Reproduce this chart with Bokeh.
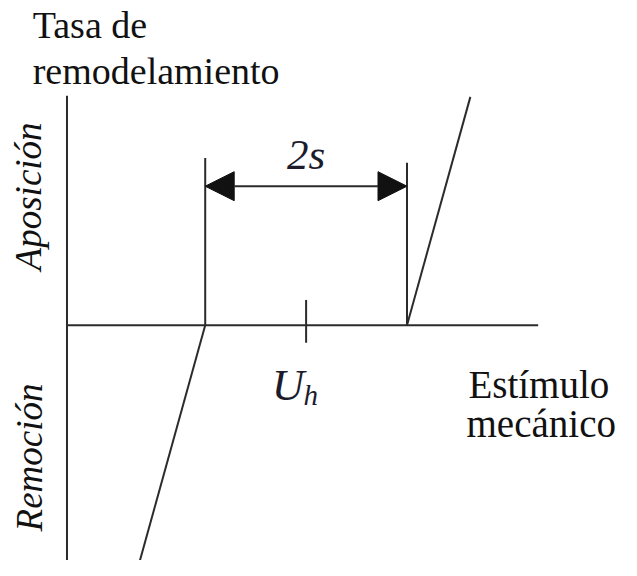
import math
from bokeh.plotting import figure
from bokeh.models import Arrow, NormalHead, Range1d
from bokeh.core.properties import value
from bokeh.embed import file_html
from bokeh.resources import INLINE

# Schematic values (stimulus units: homeostatic U_h, half-width s of the lazy zone)
u_h = 3.0
s = 1.0
slope = 3.74                      # remodelling rate per unit stimulus outside the lazy zone
lazy_low = u_h - s
lazy_high = u_h + s
axis_x = [0.63, 5.30]             # stimulus axis extent
axis_y = [-2.6, 2.36]             # rate axis extent
upper_end_x = 4.628               # end of apposition branch
lower_end_x = 1.32                # end of resorption branch
threshold_top = [1.72, 1.67]      # heights of the two threshold markers
arrow_y = 1.43                    # height of the 2s dimension arrow
tick_y = [-0.18, 0.26]            # U_h tick mark

# Labels
lbl_rate = ["Tasa de", "remodelamiento"]
lbl_stim = ["Estímulo", "mecánico"]
lbl_side = ["Aposición", "Remoción"]
lbl_width = "2s"
lbl_uh = ["U", "h"]

FONT = value("'Liberation Serif', 'Times New Roman', 'DejaVu Serif', serif")
INK = "#111111"
LINE = "#2b2b2b"

p = figure(width=621, height=560, output_backend="svg", toolbar_location=None,
           x_range=Range1d(-0.029, 6.126), y_range=Range1d(-2.42, 3.34),
           x_axis_location=None, y_axis_location=None, min_border=0)
p.outline_line_color = None
p.xgrid.visible = False
p.ygrid.visible = False
p.background_fill_color = "white"
p.border_fill_color = "white"

# axes
p.line(x=axis_x, y=[0, 0], line_color=LINE, line_width=2)
p.line(x=[axis_x[0], axis_x[0]], y=axis_y, line_color=LINE, line_width=2)

# threshold markers
p.segment(x0=[lazy_low, lazy_high], y0=[0, 0], x1=[lazy_low, lazy_high], y1=threshold_top,
          line_color=LINE, line_width=2)

# U_h tick
p.line(x=[u_h, u_h], y=tick_y, line_color=LINE, line_width=2)

# remodelling branches
p.line(x=[lazy_high, upper_end_x], y=[0, slope * (upper_end_x - lazy_high)],
       line_color=LINE, line_width=2)
p.line(x=[lazy_low, lower_end_x], y=[0, slope * (lower_end_x - lazy_low)],
       line_color=LINE, line_width=2)

# 2s dimension arrow
p.add_layout(Arrow(start=NormalHead(size=29, fill_color=INK, line_color=INK),
                   end=NormalHead(size=29, fill_color=INK, line_color=INK),
                   x_start=lazy_low, y_start=arrow_y, x_end=lazy_high, y_end=arrow_y,
                   line_color=LINE, line_width=2))

# texts
p.text(x=[0.29, 0.29], y=[3.09, 2.61], text=lbl_rate, text_font=FONT,
       text_font_size=value("38px"), text_color=INK, text_align="left",
       text_baseline="alphabetic")
p.text(x=[4.609, 4.59], y=[-0.61, -1.01], text=lbl_stim, text_font=FONT,
       text_font_size=value("39px"), text_color=INK, text_align="left",
       text_baseline="alphabetic")
p.text(x=[0.25, 0.26], y=[1.325, -1.36], text=lbl_side, text_font=FONT,
       text_font_size=value("37px"), text_font_style="italic", text_color=INK,
       text_align="center", text_baseline="alphabetic", angle=math.pi / 2)
p.text(x=[u_h], y=[1.76], text=[lbl_width], text_font=FONT,
       text_font_size=value("43px"), text_font_style="italic", text_color="#1c1c2c",
       text_align="center", text_baseline="alphabetic")
p.text(x=[2.66], y=[-0.615], text=[lbl_uh[0]], text_font=FONT,
       text_font_size=value("45px"), text_font_style="italic", text_color="#1c1c2c",
       text_align="left", text_baseline="alphabetic")
p.text(x=[2.975], y=[-0.72], text=[lbl_uh[1]], text_font=FONT,
       text_font_size=value("29px"), text_font_style="italic", text_color="#1c1c2c",
       text_align="left", text_baseline="alphabetic")

open("out.html", "w").write(file_html(p, INLINE))
